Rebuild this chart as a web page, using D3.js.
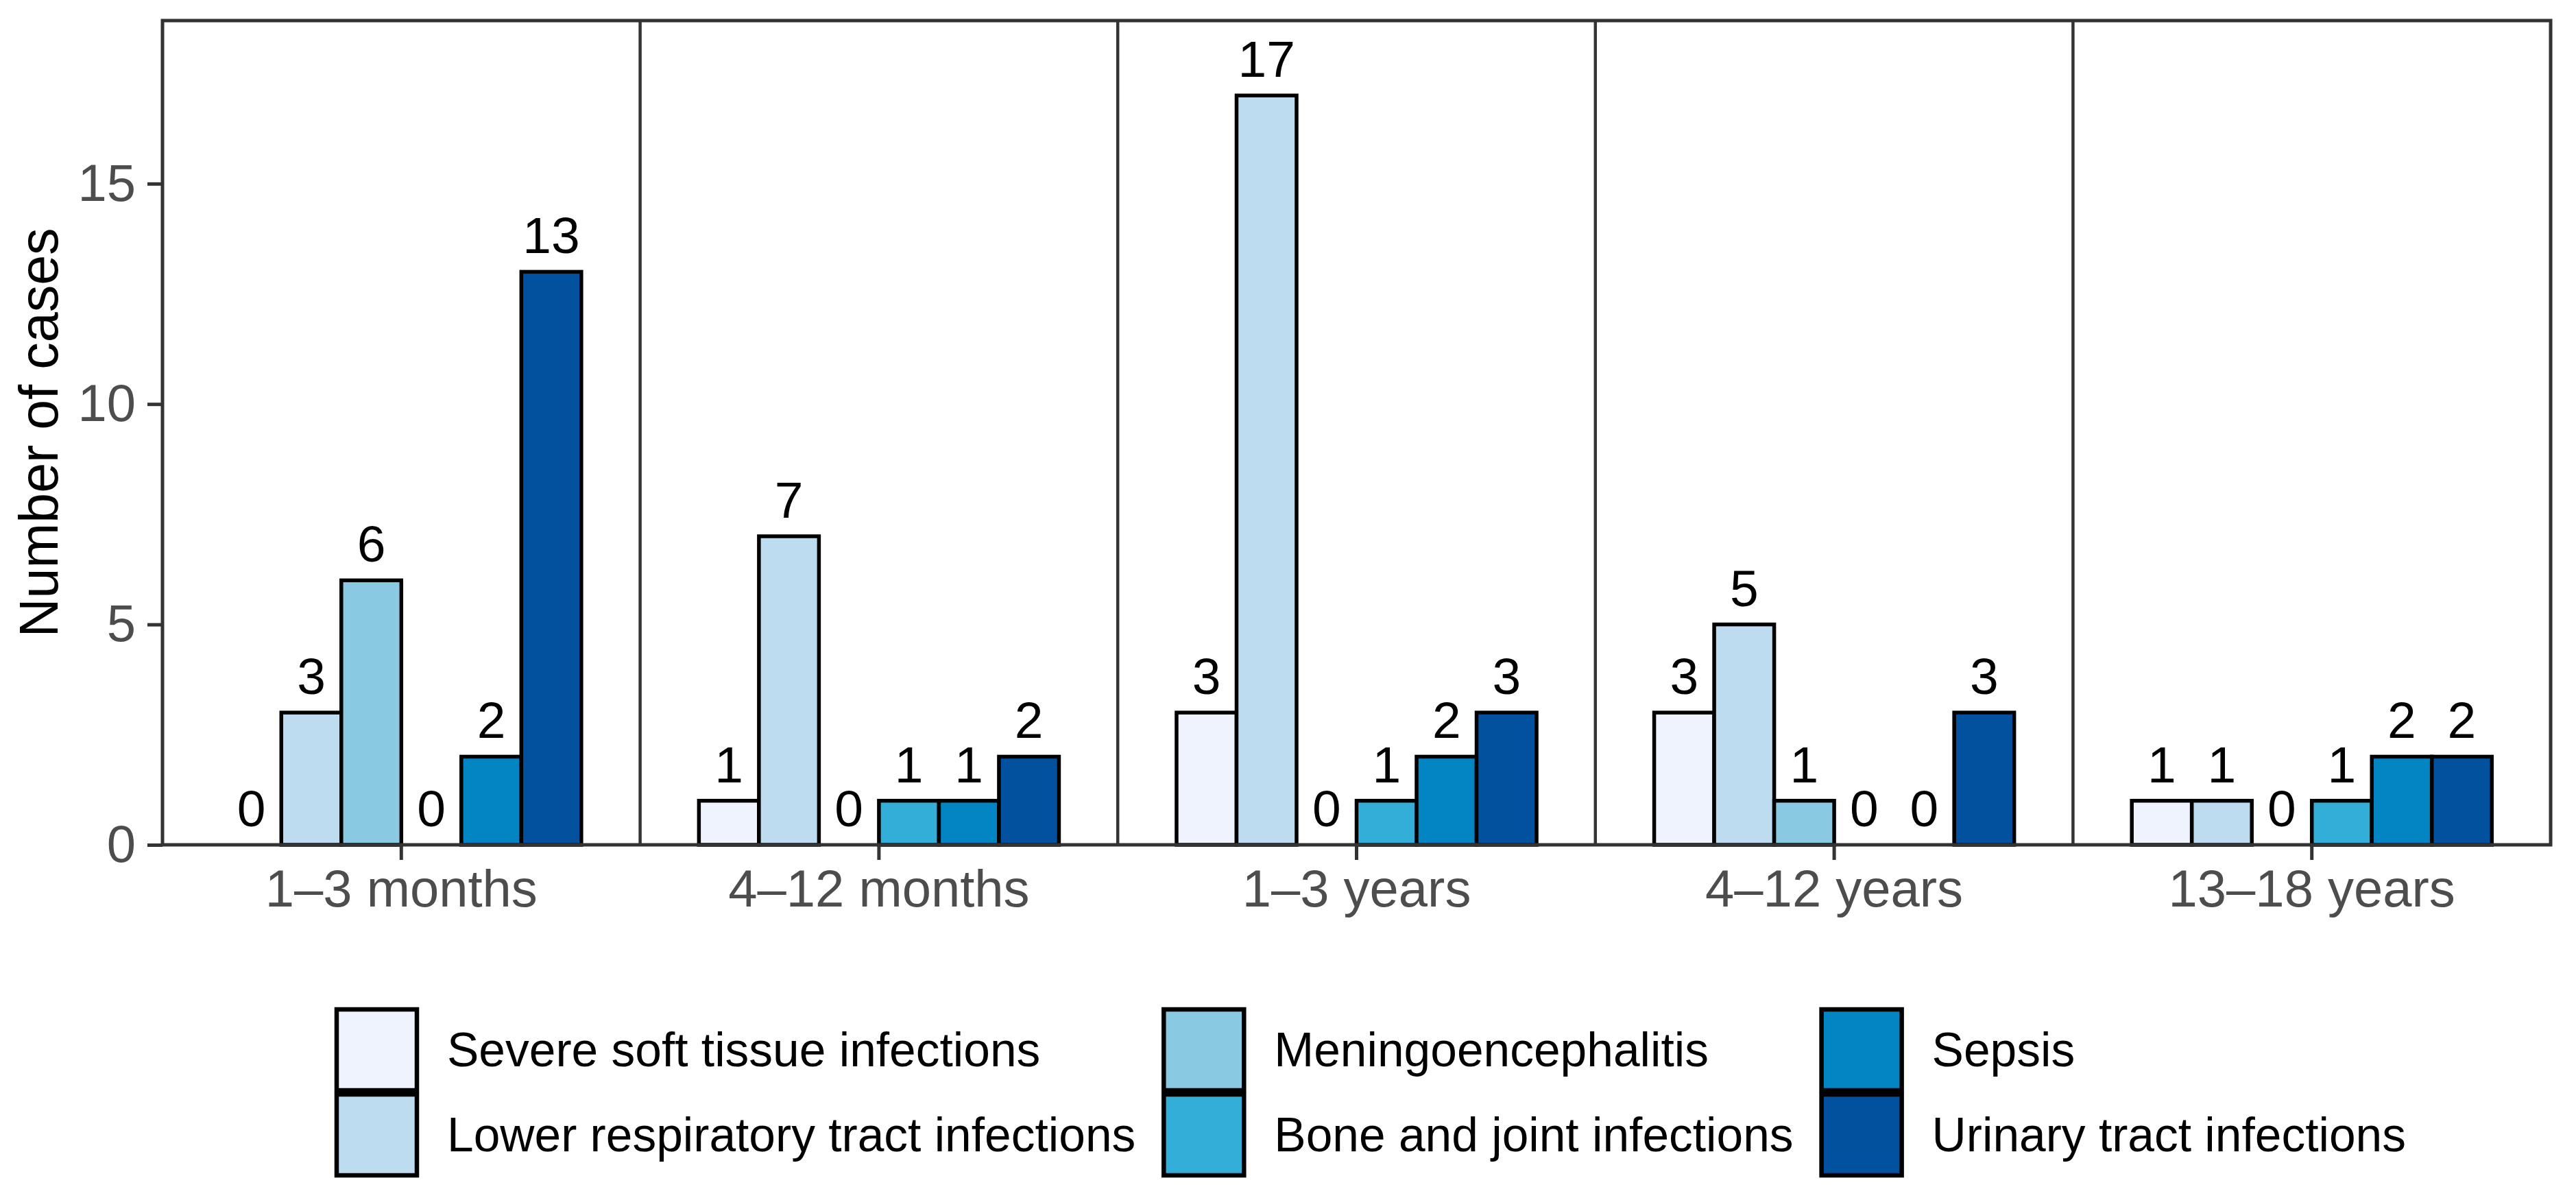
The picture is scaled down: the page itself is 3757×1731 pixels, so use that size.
<!DOCTYPE html>
<html>
<head>
<meta charset="utf-8">
<script src="https://cdn.jsdelivr.net/npm/d3@7"></script>
<style>
	body { margin: 0; background: #fff; }
	svg { display: block; }
</style>
</head>
<body>
<script>
// data
let ageGroups = ['1–3 months', '4–12 months', '1–3 years', '4–12 years', '13–18 years']
let infections = [
	'Severe soft tissue infections',
	'Lower respiratory tract infections',
	'Meningoencephalitis',
	'Bone and joint infections',
	'Sepsis',
	'Urinary tract infections'
]
let fills = ['#EEF3FD', '#BEDCF0', '#89CAE2', '#33AED9', '#0384C3', '#01519E']

let severeSoft = [0, 1, 3, 3, 1]
let lowerResp  = [3, 7, 17, 5, 1]
let meningo    = [6, 0, 0, 1, 0]
let boneJoint  = [0, 1, 1, 0, 1]
let sepsis     = [2, 1, 2, 0, 2]
let urinary    = [13, 2, 3, 3, 2]
let series = [severeSoft, lowerResp, meningo, boneJoint, sepsis, urinary]

let yTicks = [0, 5, 10, 15]
let yMax = 18.7

let W = 3757, H = 1731
let pLeft = 237, pRight = 3720, pTop = 30, pBottom = 1232
let font = 'Liberation Sans, Arial, Helvetica, sans-serif'

let svg = d3.select('body').append('svg')
	.attr('width', W).attr('height', H)
	.style('font-family', font)

let x = d3.scaleBand().domain(ageGroups).range([pLeft, pRight]).padding(0)
let xInner = d3.scaleBand().domain(infections).range([0, x.bandwidth()])
	.paddingInner(0).paddingOuter(0.98)
let y = d3.scaleLinear().domain([0, yMax]).range([pBottom, pTop])
let color = d3.scaleOrdinal().domain(infections).range(fills)

let cells = []
ageGroups.forEach((g, gi) => {
	infections.forEach((inf, ii) => {
		cells.push({group: g, inf: inf, value: series[ii][gi]})
	})
})

// bars
let plot = svg.append('g')
plot.selectAll('rect.bar').data(cells).enter().append('rect')
	.attr('class', 'bar')
	.attr('x', d => x(d.group) + xInner(d.inf))
	.attr('width', xInner.bandwidth())
	.attr('y', d => y(d.value))
	.attr('height', d => y(0) - y(d.value))
	.attr('fill', d => color(d.inf))
	.attr('stroke', d => d.value > 0 ? '#000' : 'none')
	.attr('stroke-width', 5.5)

// value labels
plot.selectAll('text.val').data(cells).enter().append('text')
	.attr('class', 'val')
	.attr('x', d => x(d.group) + xInner(d.inf) + xInner.bandwidth() / 2)
	.attr('y', d => y(d.value) - 27)
	.attr('text-anchor', 'middle')
	.attr('font-size', 75)
	.attr('fill', '#000')
	.text(d => d.value)

// panel borders
let borders = svg.append('g')
ageGroups.slice(1).forEach(g => {
	borders.append('line')
		.attr('x1', x(g)).attr('x2', x(g))
		.attr('y1', pTop).attr('y2', pBottom)
		.attr('stroke', '#333').attr('stroke-width', 4.5)
})
borders.append('rect')
	.attr('x', pLeft).attr('y', pTop)
	.attr('width', pRight - pLeft).attr('height', pBottom - pTop)
	.attr('fill', 'none').attr('stroke', '#333').attr('stroke-width', 5)

// y axis
let yAxis = svg.append('g')
	.attr('transform', `translate(${pLeft},0)`)
	.call(d3.axisLeft(y).tickValues(yTicks).tickSize(22).tickPadding(17))
yAxis.select('.domain').remove()
yAxis.selectAll('.tick line').attr('stroke', '#333').attr('stroke-width', 5)
yAxis.selectAll('.tick text')
	.attr('font-size', 76).attr('fill', '#4D4D4D').attr('font-family', font)

// x axis
let xAxis = svg.append('g')
	.attr('transform', `translate(0,${pBottom})`)
	.call(d3.axisBottom(x).tickSize(22).tickPadding(14))
xAxis.select('.domain').remove()
xAxis.selectAll('.tick line').attr('stroke', '#333').attr('stroke-width', 5)
xAxis.selectAll('.tick text')
	.attr('font-size', 76).attr('fill', '#4D4D4D').attr('font-family', font)

// y title
svg.append('text')
	.attr('transform', `translate(84,${(pTop + pBottom) / 2}) rotate(-90)`)
	.attr('text-anchor', 'middle')
	.attr('font-size', 79)
	.attr('fill', '#000')
	.text('Number of cases')

// legend, 3 columns of 2, filled by column
let keyW = 117, keyH = 118, keyGap = 6
let textGap = 44, colGap = 41
let legTop = 1472
let legend = svg.append('g')
let colX = 491
for (let c = 0; c < 3; c++) {
	let pair = infections.slice(c * 2, c * 2 + 2)
	let maxW = 0
	pair.forEach((inf, r) => {
		let ky = legTop + r * (keyH + keyGap)
		legend.append('rect')
			.attr('x', colX).attr('y', ky)
			.attr('width', keyW).attr('height', keyH)
			.attr('fill', color(inf))
			.attr('stroke', '#000').attr('stroke-width', 6.5)
		let t = legend.append('text')
			.attr('x', colX + keyW + textGap)
			.attr('y', ky + keyH / 2)
			.attr('dy', '0.35em')
			.attr('font-size', 69.5)
			.attr('fill', '#000')
			.text(inf)
		maxW = Math.max(maxW, t.node().getComputedTextLength())
	})
	colX = colX + keyW + textGap + maxW + colGap
}
</script>
</body>
</html>
